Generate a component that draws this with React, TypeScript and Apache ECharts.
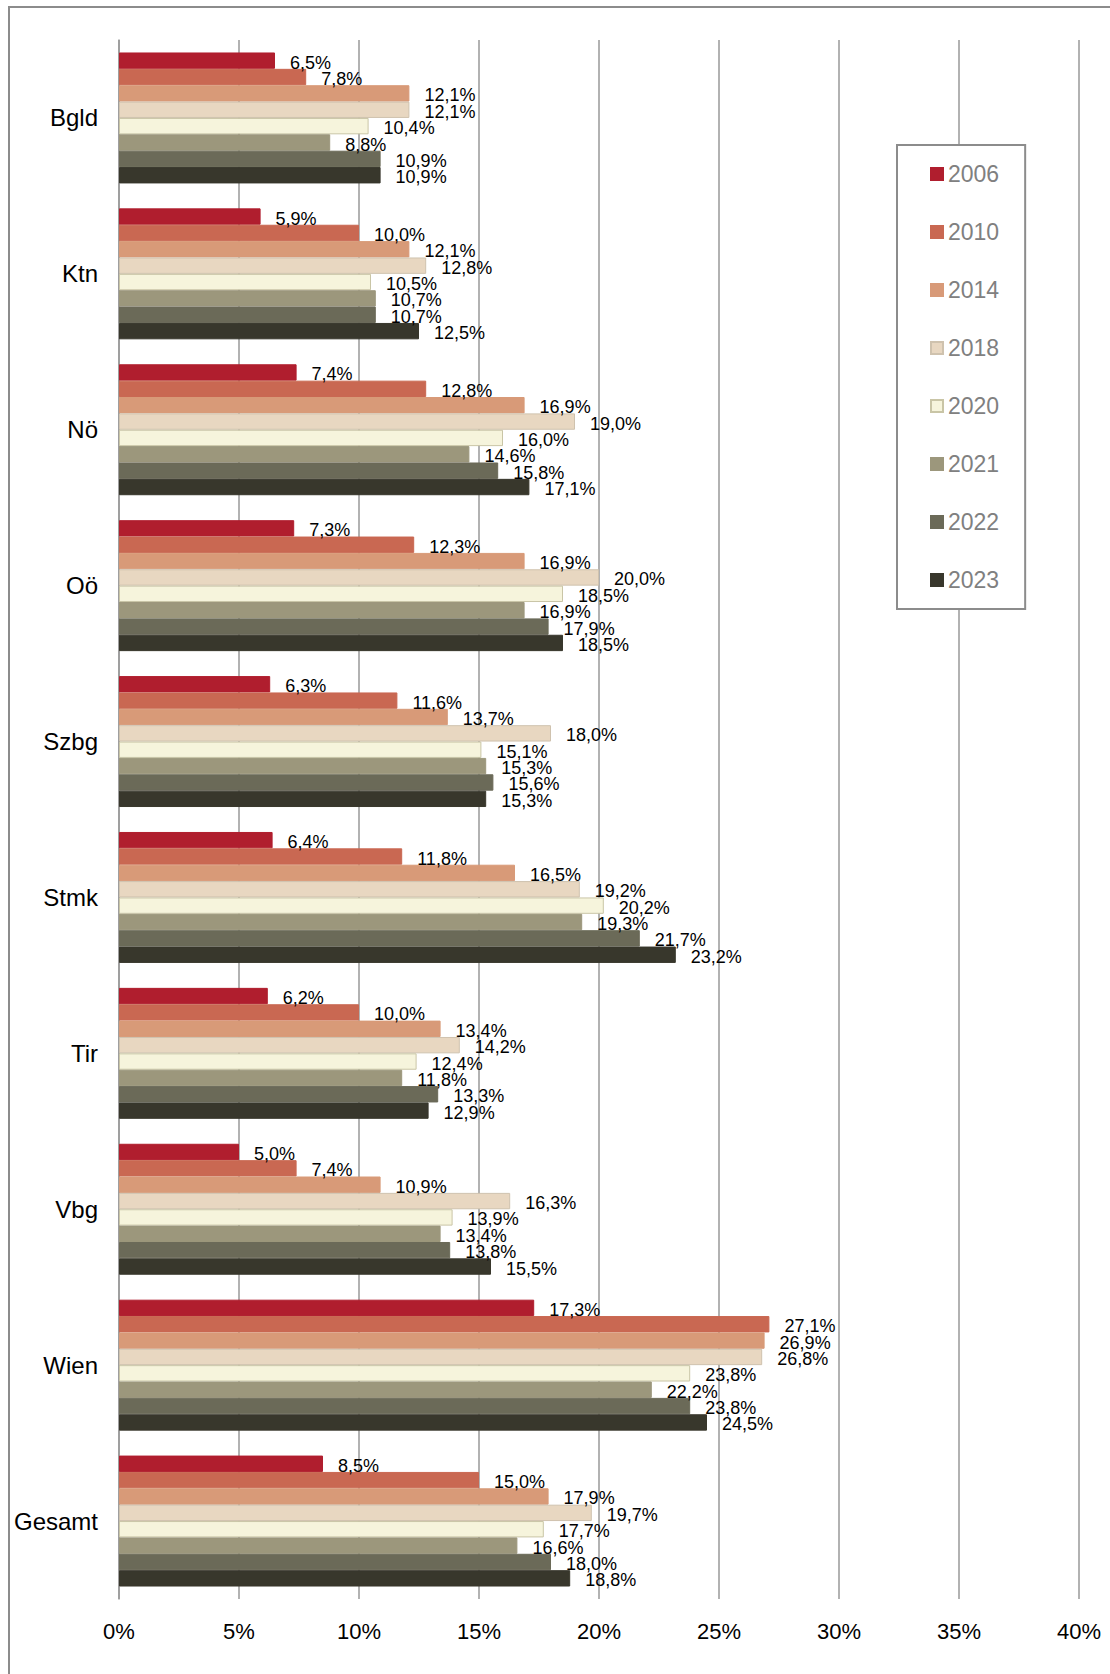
import React, { useEffect, useRef } from "react";
import * as echarts from "echarts";

const categories = ["Bgld", "Ktn", "Nö", "Oö", "Szbg", "Stmk", "Tir", "Vbg", "Wien", "Gesamt"];
const years = ["2006", "2010", "2014", "2018", "2020", "2021", "2022", "2023"];
const v2006 = [6.5, 5.9, 7.4, 7.3, 6.3, 6.4, 6.2, 5.0, 17.3, 8.5];
const v2010 = [7.8, 10.0, 12.8, 12.3, 11.6, 11.8, 10.0, 7.4, 27.1, 15.0];
const v2014 = [12.1, 12.1, 16.9, 16.9, 13.7, 16.5, 13.4, 10.9, 26.9, 17.9];
const v2018 = [12.1, 12.8, 19.0, 20.0, 18.0, 19.2, 14.2, 16.3, 26.8, 19.7];
const v2020 = [10.4, 10.5, 16.0, 18.5, 15.1, 20.2, 12.4, 13.9, 23.8, 17.7];
const v2021 = [8.8, 10.7, 14.6, 16.9, 15.3, 19.3, 11.8, 13.4, 22.2, 16.6];
const v2022 = [10.9, 10.7, 15.8, 17.9, 15.6, 21.7, 13.3, 13.8, 23.8, 18.0];
const v2023 = [10.9, 12.5, 17.1, 18.5, 15.3, 23.2, 12.9, 15.5, 24.5, 18.8];
const seriesValues = [v2006, v2010, v2014, v2018, v2020, v2021, v2022, v2023];
const colors = ["#b01e2e", "#c96852", "#d89a78", "#e8d7c1", "#f6f4dc", "#9c977c", "#6b6a58", "#38372c"];
const borders = ["#b01e2e", "#c96852", "#d89a78", "#cfc2ae", "#c9c5a6", "#9c977c", "#6b6a58", "#38372c"];
const xTicks = { min: 0, max: 40, interval: 5 };

const FONT = "Liberation Sans, Arial, sans-serif";

export default function App() {
  const ref = useRef<HTMLDivElement>(null);
  useEffect(() => {
    document.body.style.margin = "0";
    const chart = echarts.init(ref.current!, null, { renderer: "svg" });
    chart.setOption({
      animation: false,
      backgroundColor: "#fff",
      textStyle: { fontFamily: FONT },
      graphic: [
        {
          type: "rect",
          z: -10,
          shape: { x: 9, y: 7, width: 1300, height: 1900 },
          style: { fill: "none", stroke: "#8c8c8c", lineWidth: 2 },
        },
      ],
      grid: { left: 119, top: 40, right: 31, bottom: 75, containLabel: false },
      legend: {
        orient: "vertical",
        left: 897,
        top: 145,
        padding: [17, 26, 17, 33],
        itemWidth: 12,
        itemHeight: 12,
        itemGap: 34,
        itemTextGap: 5,
        borderColor: "#8c8c8c",
        borderWidth: 2,
        backgroundColor: "#fff",
        icon: "rect",
        textStyle: { fontSize: 23, color: "#808080", lineHeight: 24, fontFamily: FONT },
        data: years,
      },
      xAxis: {
        type: "value",
        min: xTicks.min,
        max: xTicks.max,
        interval: xTicks.interval,
        axisLine: { show: false },
        axisTick: { show: false },
        splitLine: { show: true, lineStyle: { color: "#999999", width: 1.5 } },
        axisLabel: { formatter: "{value}%", fontSize: 22, color: "#000", margin: 21, fontFamily: FONT },
      },
      yAxis: {
        type: "category",
        inverse: true,
        data: categories,
        axisLine: { show: true, lineStyle: { color: "#999999", width: 1.5 } },
        axisTick: { show: false },
        axisLabel: { fontSize: 24, color: "#000", margin: 21, fontFamily: FONT },
      },
      series: years.map((y, i) => ({
        name: y,
        type: "bar",
        data: seriesValues[i],
        barGap: "0%",
        barCategoryGap: "16%",
        itemStyle: { color: colors[i], borderColor: borders[i], borderWidth: 1 },
        label: {
          show: true,
          position: "right",
          distance: 15,
          offset: [0, 2],
          fontSize: 18,
          color: "#000",
          fontFamily: FONT,
          formatter: (p: any) => p.value.toFixed(1).replace(".", ",") + "%",
        },
      })),
    });
    return () => chart.dispose();
  }, []);
  return <div ref={ref} style={{ width: 1110, height: 1674 }} />;
}
